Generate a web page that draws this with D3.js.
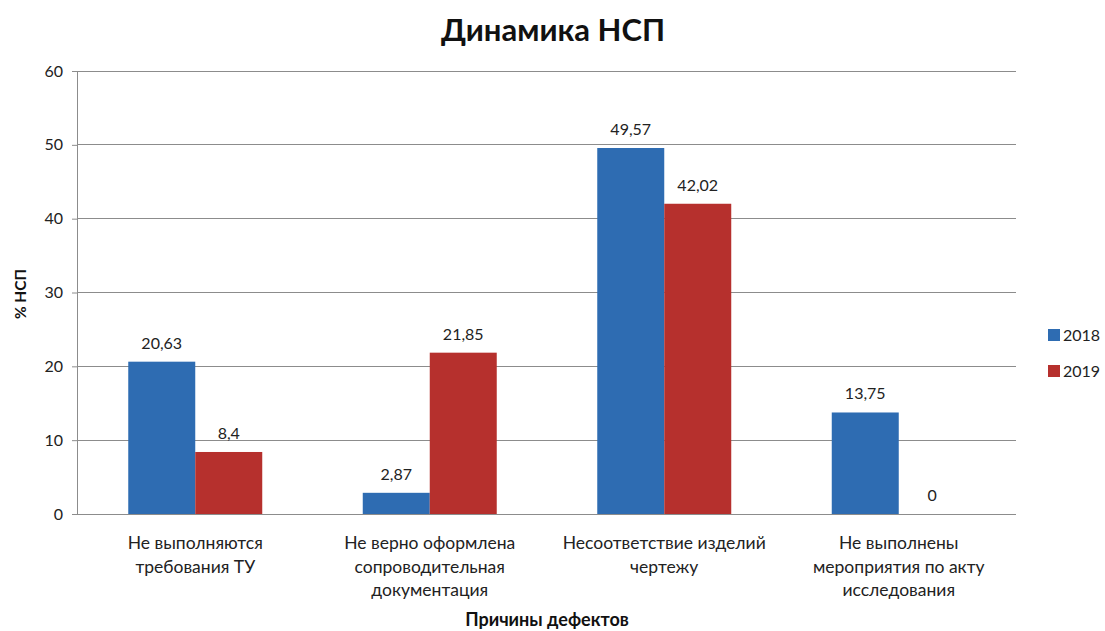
<!DOCTYPE html>
<html>
<head>
<meta charset="utf-8">
<script src="https://cdn.jsdelivr.net/npm/d3@7/dist/d3.min.js"></script>
<style>
  html, body { margin: 0; padding: 0; background: #fff; }
  svg { display: block; font-family: Lato, "Open Sans", sans-serif; }
</style>
</head>
<body>
<svg id="chart" width="1105" height="631"></svg>
<script>
// Defect reasons (multi-line labels)
const categories = [
  ["Не выполняются", "требования ТУ"],
  ["Не верно оформлена", "сопроводительная", "документация"],
  ["Несоответствие изделий", "чертежу"],
  ["Не выполнены", "мероприятия по акту", "исследования"]
];
const years = ["2018", "2019"];
const values2018 = [20.63, 2.87, 49.57, 13.75];
const values2019 = [8.4, 21.85, 42.02, 0];
const yTicks = [0, 10, 20, 30, 40, 50, 60];

const colors = { "2018": "#2e6cb2", "2019": "#b6302d" };
const series = { "2018": values2018, "2019": values2019 };

const svg = d3.select("#chart");
const plot = { left: 78, right: 1016, top: 71, bottom: 514 };

const x0 = d3.scaleBand()
  .domain(d3.range(categories.length))
  .range([plot.left, plot.right])
  .paddingInner(0.4286)
  .paddingOuter(0.2143);
const x1 = d3.scaleBand().domain(years).range([0, x0.bandwidth()]);
const y = d3.scaleLinear().domain([0, 60]).range([plot.bottom, plot.top]);

// Gridlines
svg.append("g")
  .selectAll("line")
  .data(yTicks.filter(d => d > 0))
  .join("line")
  .attr("x1", plot.left).attr("x2", plot.right)
  .attr("y1", d => y(d)).attr("y2", d => y(d))
  .attr("stroke", "#8c8c8c").attr("stroke-width", 1)
  .attr("shape-rendering", "crispEdges");

// Y axis
const yAxis = svg.append("g")
  .attr("transform", `translate(${plot.left},0)`)
  .call(d3.axisLeft(y).tickValues(yTicks).tickSize(6).tickPadding(9).tickFormat(d3.format("d")));
yAxis.select(".domain").attr("stroke", "#8c8c8c").attr("d", `M-0.5,${plot.top}V${plot.bottom}`);
yAxis.selectAll(".tick line").attr("stroke", "#8c8c8c");
yAxis.selectAll("text").attr("font-size", 16).attr("fill", "#222")
  .attr("font-family", "Lato, 'Open Sans', sans-serif");

// X baseline
svg.append("line")
  .attr("x1", plot.left).attr("x2", plot.right)
  .attr("y1", y(0)).attr("y2", y(0))
  .attr("stroke", "#8c8c8c").attr("shape-rendering", "crispEdges");

// Bars
const groups = svg.append("g")
  .selectAll("g")
  .data(categories.map((c, i) => i))
  .join("g")
  .attr("transform", i => `translate(${x0(i)},0)`);

groups.selectAll("rect")
  .data(i => years.map(yr => ({ yr, v: series[yr][i] })))
  .join("rect")
  .attr("x", d => x1(d.yr))
  .attr("width", x1.bandwidth())
  .attr("y", d => y(d.v))
  .attr("height", d => y(0) - y(d.v))
  .attr("fill", d => colors[d.yr]);

// Value labels
groups.selectAll("text.val")
  .data(i => years.map(yr => ({ yr, v: series[yr][i] })))
  .join("text")
  .attr("class", "val")
  .attr("x", d => x1(d.yr) + x1.bandwidth() / 2)
  .attr("y", d => y(d.v) - 13)
  .attr("text-anchor", "middle")
  .attr("font-size", 16)
  .attr("fill", "#222")
  .text(d => String(d.v).replace(".", ","));

// Category labels
const catLabels = svg.append("g")
  .selectAll("text")
  .data(categories)
  .join("text")
  .attr("x", (d, i) => x0(i) + x0.bandwidth() / 2)
  .attr("y", 549)
  .attr("text-anchor", "middle")
  .attr("font-size", 17.5)
  .attr("fill", "#222");
catLabels.selectAll("tspan")
  .data(d => d)
  .join("tspan")
  .attr("x", function () { return this.parentNode.getAttribute("x"); })
  .attr("dy", (d, i) => i === 0 ? 0 : 23.5)
  .text(d => d);

// Title
svg.append("text")
  .attr("x", 553).attr("y", 41)
  .attr("text-anchor", "middle")
  .attr("font-size", 31).attr("font-weight", "bold")
  .attr("fill", "#111")
  .text("Динамика НСП");

// Axis titles
svg.append("text")
  .attr("transform", "translate(26,294) rotate(-90)")
  .attr("text-anchor", "middle")
  .attr("font-size", 15.5).attr("font-weight", "bold")
  .attr("fill", "#111")
  .text("% НСП");

svg.append("text")
  .attr("x", 547).attr("y", 626)
  .attr("text-anchor", "middle")
  .attr("font-size", 18).attr("font-weight", "bold")
  .attr("fill", "#111")
  .text("Причины дефектов");

// Legend
const legend = svg.append("g")
  .selectAll("g")
  .data(years)
  .join("g")
  .attr("transform", (d, i) => `translate(1048,${329 + i * 36})`);
legend.append("rect")
  .attr("width", 12).attr("height", 12)
  .attr("fill", d => colors[d]);
legend.append("text")
  .attr("x", 15).attr("y", 11.5)
  .attr("font-size", 16).attr("fill", "#222")
  .text(d => d);
</script>
</body>
</html>
